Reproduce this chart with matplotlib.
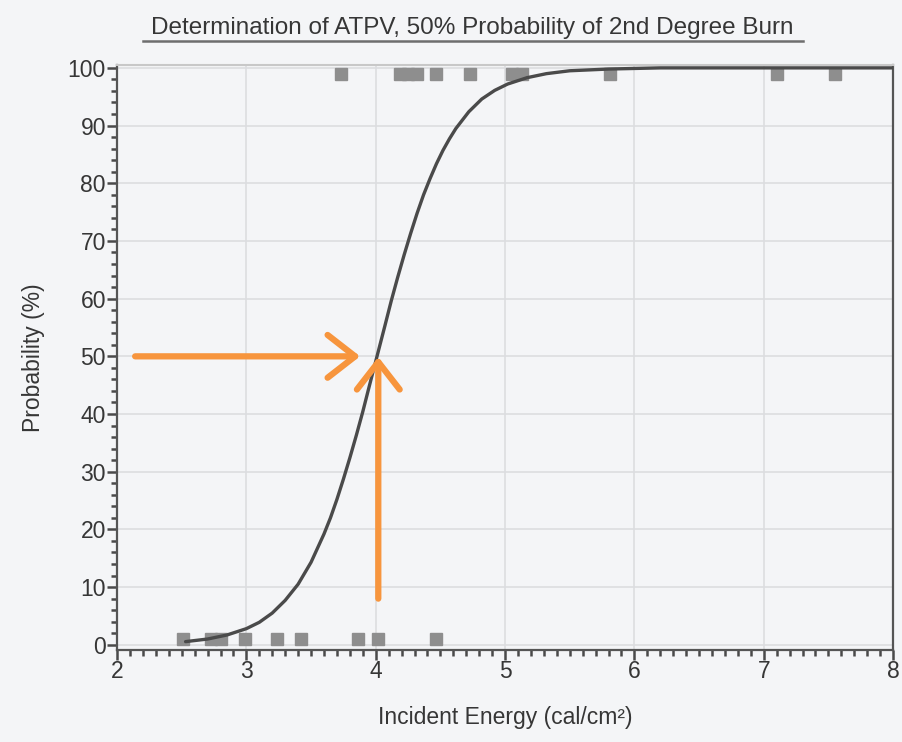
import matplotlib
matplotlib.use('Agg')
import matplotlib.pyplot as plt
from matplotlib.lines import Line2D
from matplotlib.ticker import MultipleLocator

'''DATA'''
# test results: burns (plotted at top) and no-burns (plotted at bottom)
burn_x = [3.73, 4.19, 4.25, 4.32, 4.47, 4.73, 5.05, 5.13, 5.81, 7.10, 7.55]
burn_y = [99] * len(burn_x)
noburn_x = [2.51, 2.73, 2.80, 2.99, 3.24, 3.42, 3.86, 4.02, 4.47]
noburn_y = [1] * len(noburn_x)

# fitted probability curve
curve_x = [2.53, 2.70, 2.85, 3.00, 3.10, 3.20, 3.30, 3.40, 3.50, 3.60, 3.65,
           3.70, 3.75, 3.80, 3.85, 3.90, 3.95, 4.01, 4.07, 4.12, 4.17, 4.22,
           4.27, 4.32, 4.37, 4.42, 4.47, 4.52, 4.57, 4.62, 4.72, 4.82, 4.92,
           5.02, 5.17, 5.32, 5.50, 5.80, 6.20, 8.00]
curve_y = [0.55, 1.0, 1.7, 2.8, 3.9, 5.5, 7.7, 10.5, 14.3, 19.2, 22.0,
           25.2, 28.7, 32.4, 36.3, 40.4, 44.8, 50.0, 55.2, 59.6, 63.7, 67.6,
           71.3, 74.8, 78.0, 80.8, 83.4, 85.7, 87.7, 89.5, 92.4, 94.6, 96.1,
           97.2, 98.3, 99.0, 99.5, 99.8, 100.0, 100.0]

atpv = 4.02
arrow_h = (2.14, 3.88)   # horizontal arrow tail/tip x at 50%
arrow_v = (8.0, 49.9)    # vertical arrow tail/tip y at ATPV

'''Plot'''
BG = '#f4f5f7'
GRAY = '#4a4a4a'
TXT = '#363636'
ORANGE = '#f7953d'
plt.rcParams['font.family'] = ['Liberation Sans', 'DejaVu Sans']

fig = plt.figure(figsize=(9.03, 7.42), dpi=100, facecolor=BG)
ax = fig.add_axes([0.1296, 0.124, 0.8594, 0.7884], facecolor=BG)

ax.grid(True, which='major', color='#dcdde0', lw=1.2)
ax.set_axisbelow(True)

ax.plot(curve_x, curve_y, color=GRAY, lw=2.4, solid_capstyle='round',
        solid_joinstyle='round', zorder=3)
ax.plot(burn_x, burn_y, 's', color='#8e8e8e', ms=8, zorder=2)
ax.plot(noburn_x, noburn_y, 's', color='#8e8e8e', ms=8, zorder=2)

arrow = dict(arrowstyle='->,head_length=0.9,head_width=0.7', color=ORANGE, lw=4.5,
             capstyle='round', joinstyle='round', shrinkA=0, shrinkB=0,
             mutation_scale=22)
ax.annotate('', xy=(arrow_h[1], 50), xytext=(arrow_h[0], 50), arrowprops=arrow, zorder=4)
ax.annotate('', xy=(atpv, arrow_v[1]), xytext=(atpv, arrow_v[0]), arrowprops=arrow, zorder=4)

ax.set_xlim(2, 8)
ax.set_ylim(-0.9, 100.5)
ax.xaxis.set_major_locator(MultipleLocator(1))
ax.xaxis.set_minor_locator(MultipleLocator(0.1))
ax.yaxis.set_major_locator(MultipleLocator(10))
ax.yaxis.set_minor_locator(MultipleLocator(2))
ax.tick_params(which='major', length=7, width=1.8, color=GRAY, labelsize=16.5,
               labelcolor=TXT, pad=1)
ax.tick_params(axis='x', which='major', pad=0)
ax.tick_params(which='minor', length=4, width=1.8, color=GRAY)

for side in ['left', 'bottom', 'right']:
    ax.spines[side].set_color('#555555')
    ax.spines[side].set_linewidth(1.6)
ax.spines['top'].set_color('#c8c8c8')
ax.spines['top'].set_linewidth(1.5)

ax.set_xlabel('Incident Energy (cal/cm²)', fontsize=16.5, color=TXT, labelpad=17)
ax.set_ylabel('Probability (%)', fontsize=16.5, color=TXT, labelpad=16)

fig.text(0.523, 0.962, 'Determination of ATPV, 50% Probability of 2nd Degree Burn',
         ha='center', va='center', fontsize=17.5, color=TXT)
fig.add_artist(Line2D([0.158, 0.889], [0.945, 0.945], color='#6e6e6e', lw=1.8))

fig.savefig('out.png', dpi=100, facecolor=BG)
